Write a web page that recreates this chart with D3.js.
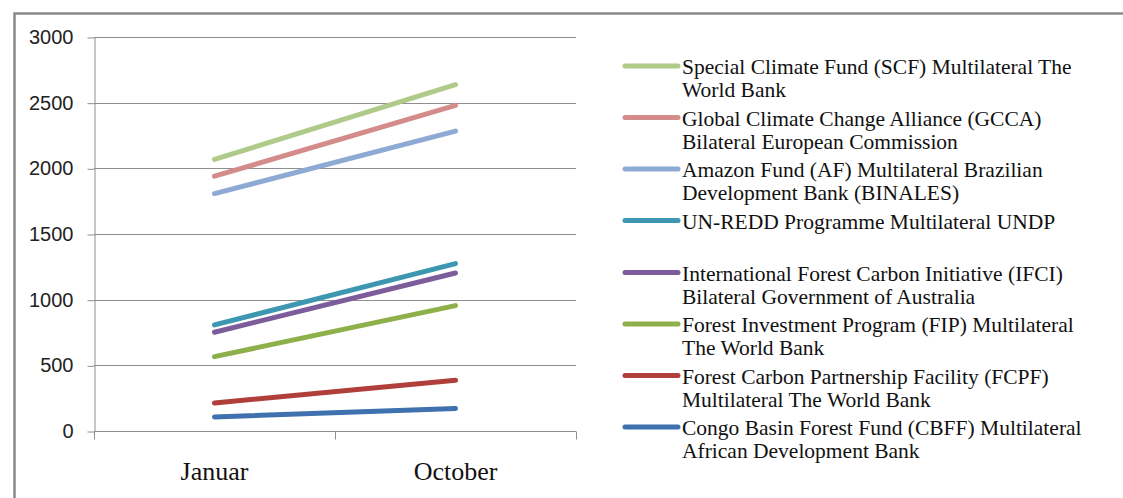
<!DOCTYPE html>
<html>
<head>
<meta charset="utf-8">
<script src="https://cdn.jsdelivr.net/npm/d3@7"></script>
<style>
  html, body { margin: 0; padding: 0; background: #fff; }
  svg { display: block; }
</style>
</head>
<body>
<svg id="chart" width="1123" height="498"></svg>
<script>
// ---- data ----
const categories = ["Januar", "October"];
const seriesNames = [
  ["Special Climate Fund (SCF) Multilateral The", "World Bank"],
  ["Global Climate Change Alliance (GCCA)", "Bilateral European Commission"],
  ["Amazon Fund (AF) Multilateral Brazilian", "Development Bank (BINALES)"],
  ["UN-REDD Programme Multilateral UNDP"],
  ["International Forest Carbon Initiative (IFCI)", "Bilateral Government of Australia"],
  ["Forest Investment Program (FIP) Multilateral", "The World Bank"],
  ["Forest Carbon Partnership Facility (FCPF)", "Multilateral The World Bank"],
  ["Congo Basin Forest Fund (CBFF) Multilateral", "African Development Bank"]
];
const scfValues   = [2068, 2637];
const gccaValues  = [1940, 2479];
const afValues    = [1808, 2283];
const unreddValues= [808, 1275];
const ifciValues  = [752, 1203];
const fipValues   = [566, 955];
const fcpfValues  = [213, 386];
const cbffValues  = [107, 172];
const seriesValues = [scfValues, gccaValues, afValues, unreddValues, ifciValues, fipValues, fcpfValues, cbffValues];
const seriesColors = ["#B0CA8A", "#D48C8B", "#8EA9D3", "#3D97B0", "#7C5C9B", "#8DB04B", "#B03F3B", "#3F71AE"];
const yTicks = [0, 500, 1000, 1500, 2000, 2500, 3000];

// ---- layout ----
const svg = d3.select("#chart");
const plot = { left: 94, right: 576, top: 37, bottom: 431 };

// frame
svg.append("path")
  .attr("d", "M14.5,498 L14.5,13.5 L1123,13.5")
  .attr("fill", "none").attr("stroke", "#8a8a8a").attr("stroke-width", 2.5);

const x = d3.scaleBand().domain(categories).range([plot.left, plot.right]).padding(0);
const y = d3.scaleLinear().domain([0, 3000]).range([plot.bottom, plot.top]);

// gridlines
svg.append("g").selectAll("line").data(yTicks.filter(d => d > 0)).join("line")
  .attr("x1", plot.left).attr("x2", plot.right)
  .attr("y1", d => Math.round(y(d)) + 0.5).attr("y2", d => Math.round(y(d)) + 0.5)
  .attr("stroke", "#8f8f8f").attr("stroke-width", 1);

// y axis
const yAxis = svg.append("g").attr("transform", `translate(${plot.left + 0.5},0)`)
  .call(d3.axisLeft(y).tickValues(yTicks).tickFormat(d3.format("d")).tickSize(7).tickPadding(14).tickSizeOuter(0));
yAxis.select(".domain").attr("stroke", "#8f8f8f");
yAxis.selectAll(".tick line").attr("stroke", "#8f8f8f").attr("transform", "translate(0,0.5)");
yAxis.selectAll(".tick text")
  .attr("font-family", "'Liberation Sans', Arial, sans-serif")
  .attr("font-size", 20).attr("fill", "#222");

// x axis (ticks at category boundaries)
const xAxisG = svg.append("g").attr("transform", `translate(0,${plot.bottom + 0.5})`);
xAxisG.append("line").attr("x1", plot.left).attr("x2", plot.right)
  .attr("stroke", "#8f8f8f");
const boundaries = categories.map(c => x(c)).concat([x(categories[categories.length - 1]) + x.bandwidth()]);
xAxisG.selectAll("line.tk").data(boundaries).join("line").attr("class", "tk")
  .attr("x1", d => Math.round(d) + 0.5).attr("x2", d => Math.round(d) + 0.5)
  .attr("y1", 0).attr("y2", 8).attr("stroke", "#8f8f8f");
xAxisG.selectAll("text").data(categories).join("text")
  .attr("x", d => x(d) + x.bandwidth() / 2).attr("y", 48)
  .attr("text-anchor", "middle")
  .attr("font-family", "'Liberation Serif', 'Times New Roman', serif")
  .attr("font-size", 26).attr("fill", "#111")
  .text(d => d);

// lines
const line = d3.line().x((d, i) => x(categories[i]) + x.bandwidth() / 2).y(d => y(d));
svg.append("g").selectAll("path").data(seriesValues).join("path")
  .attr("d", d => line(d))
  .attr("fill", "none")
  .attr("stroke", (d, i) => seriesColors[i])
  .attr("stroke-width", 5)
  .attr("stroke-linecap", "round");

// legend
const legendY = [66, 117.5, 169, 220.5, 272.5, 324, 375.5, 427];
const lg = svg.append("g");
seriesNames.forEach((lines, i) => {
  const g = lg.append("g").attr("transform", `translate(0,${legendY[i]})`);
  g.append("line").attr("x1", 625).attr("x2", 678).attr("y1", 0).attr("y2", 0)
    .attr("stroke", seriesColors[i]).attr("stroke-width", 5).attr("stroke-linecap", "round");
  const t = g.append("text")
    .attr("font-family", "'Liberation Serif', 'Times New Roman', serif")
    .attr("font-size", 21.5).attr("fill", "#111");
  lines.forEach((s, j) => {
    t.append("tspan").attr("x", 682).attr("y", 8 + j * 23).text(s);
  });
});
</script>
</body>
</html>
